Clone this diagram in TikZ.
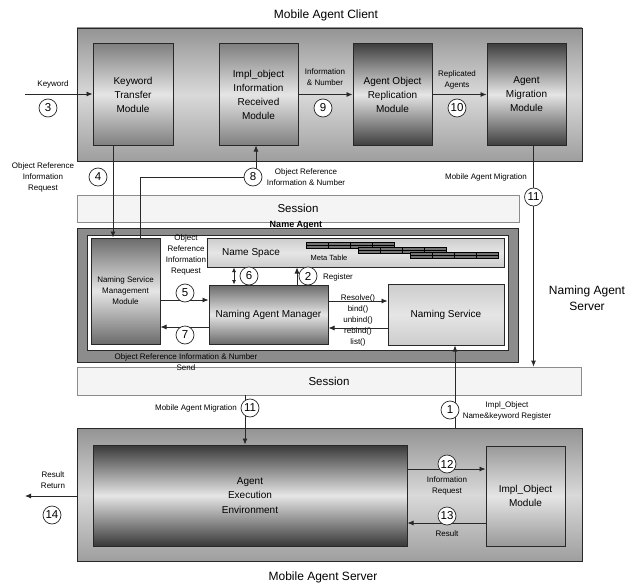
\documentclass[tikz,border=0pt]{standalone}
\usepackage{fontspec}
\setmainfont{Liberation Sans}
\usepackage{tikz}
\usetikzlibrary{arrows.meta,positioning,calc}
\definecolor{rahmen}{RGB}{40,40,40}
\definecolor{sessC}{RGB}{244,244,244}
\newcommand\modfont{\fontsize{10}{14}\selectfont}
\newcommand\lblfont{\fontsize{8}{11}\selectfont}
\newcommand\numfont{\fontsize{11.5}{12}\selectfont}
\newcommand\headfont{\fontsize{12}{16}\selectfont}
\newcommand\sessfont{\fontsize{11.5}{13}\selectfont}
\tikzset{
  panel/.style={rectangle, draw=rahmen, line width=0.9pt, top color=black!42, bottom color=black!38,
                middle color=black!15, minimum width=505pt, minimum height=133pt},
  modul/.style={rectangle, draw=rahmen, line width=1pt, top color=black!#1, bottom color=black!#1,
                middle color=black!10, align=center, font=\modfont, inner sep=1pt},
  modul/.default=45,
  sessbox/.style={rectangle, draw=black!45, line width=0.8pt, fill=sessC, font=\sessfont},
  num/.style={circle, draw=rahmen, line width=0.7pt, fill=white, minimum size=18pt, inner sep=0pt, font=\numfont},
  arr/.style={-{Latex[length=6pt,width=5pt]}, line width=0.8pt, draw=rahmen},
  arrbi/.style={{Latex[length=4.5pt,width=4pt]}-{Latex[length=4.5pt,width=4pt]}, line width=0.8pt, draw=rahmen},
  lbl/.style={font=\lblfont, align=center, inner sep=0pt},
  head/.style={font=\headfont, align=center, inner sep=0pt},
}
\begin{document}
\begin{tikzpicture}[x=1pt,y=-1pt]
  \useasboundingbox (0,0) rectangle (637,586);
  % client side
  \node[head] (tclient) at (326,15) {Mobile Agent Client};
  \node[panel] (client) at (329.5,94.5) {};
  \node[modul=50, minimum width=80pt, minimum height=101pt] (ktm) at (133,94.5) {Keyword\\Transfer\\Module};
  \node[modul=50, minimum width=79pt, minimum height=101pt] (impl) at (258.5,94.5) {Impl\_object\\Information\\Received\\Module};
  \node[modul=75, minimum width=79pt, minimum height=101pt] (aor) at (392.5,94.5) {Agent Object\\Replication\\Module};
  \node[modul=75, minimum width=79pt, minimum height=101pt] (amm) at (526.5,94.5) {Agent\\Migration\\Module};
  % naming agent server
  \node[sessbox, minimum width=442pt, minimum height=27pt] (sess1) at (298,208.5) {Session};
  \node[rectangle, draw=rahmen, line width=1pt, fill=black!45, minimum width=441pt, minimum height=134pt] (nagent) at (297.5,295) {};
  \node[rectangle, draw=rahmen, line width=0.8pt, fill=white, minimum width=421pt, minimum height=115pt] (nainner) at (297.5,292.5) {};
  \node[lbl, font=\fontsize{9}{11}\selectfont\bfseries] (tna) at (296,225) {Name Agent};
  \node[modul=58, font=\lblfont, minimum width=69pt, minimum height=106pt] (nsmm) at (125.5,291) {Naming Service\\Management\\Module};
  \node[modul=20, minimum width=297pt, minimum height=29pt] (nspace) at (355.5,252.5) {};
  \node[font=\modfont, inner sep=0pt] (nstxt) at (251,253) {Name Space};
  \foreach \i in {0,1,2}{
    \draw[fill=black!55, line width=0.6pt] ({306+52*\i},{242+5*\i}) rectangle ++(88,6);
    \draw[line width=0.4pt] ({306+52*\i},{245+5*\i}) -- ++(88,0);
    \foreach \j in {1,2,3} \draw[line width=0.5pt] ({306+52*\i+22*\j},{242+5*\i}) -- ++(0,6);
  }
  \node[lbl, font=\fontsize{7.5}{9}\selectfont] (mtab) at (329,258) {Meta Table};
  \node[modul=58, minimum width=119pt, minimum height=59pt] (nam) at (268.5,314.5) {Naming Agent Manager};
  \node[modul=20, minimum width=116pt, minimum height=61pt] (nserv) at (446,314.5) {Naming Service};
  \node[sessbox, minimum width=504pt, minimum height=28pt] (sess2) at (329,381) {Session};
  \node[head] (tnas) at (587,298) {Naming Agent\\Server};
  % server side
  \node[panel] (server) at (329.5,495) {};
  \node[modul=78, minimum width=314pt, minimum height=101pt, font=\fontsize{10}{14.5}\selectfont] (aee) at (250,495.5) {Agent\\Execution\\Environment};
  \node[modul=40, minimum width=79pt, minimum height=100pt] (iom) at (525.5,496) {Impl\_Object\\Module};
  \node[head] (tserver) at (323,577) {Mobile Agent Server};
  % labels
  \node[lbl] (lkw) at (53,84) {Keyword};
  \node[lbl] (l9) at (325,77.5) {Information\\\& Number};
  \node[lbl] (l10) at (457,80) {Replicated\\Agents};
  \node[lbl] (l4) at (43,177) {Object Reference\\Information\\Request};
  \node[lbl] (l8) at (306,177) {Object Reference\\Information \& Number};
  \node[lbl] (l11a) at (486,177) {Mobile Agent Migration};
  \node[lbl] (l5) at (186,255) {Object\\Reference\\Information\\Request};
  \node[lbl] (l2) at (338,277) {Register};
  \node[lbl] (lres) at (358,320) {Resolve()\\bind()\\unbind()\\rebind()\\list()};
  \node[lbl] (l7) at (186,362) {Object Reference Information \& Number\\Send};
  \node[lbl] (l11b) at (196,408) {Mobile Agent Migration};
  \node[lbl] (l1) at (507,411) {Impl\_Object\\Name\&keyword Register};
  \node[lbl] (l12) at (447,485.5) {Information\\Request};
  \node[lbl] (l13) at (447,534) {Result};
  \node[lbl] (l14) at (53,480.5) {Result\\Return};
  % connectors
  \coordinate (kwin) at (25,94);
  \coordinate (rrout) at (25,496);
  \draw[arr] (kwin) -- (kwin -| ktm.west);
  \draw[arr] (impl.east) -- (aor.west);
  \draw[arr] (aor.east) -- (amm.west);
  \draw[arr] ([xshift=-20pt]ktm.south) -- ([xshift=-20pt]ktm.south |- nsmm.north);
  \draw[arr] ([xshift=14.5pt]nsmm.north) |- ([xshift=-2.5pt,yshift=-32pt]impl.south) -- ([xshift=-2.5pt]impl.south);
  \draw[arr] ([xshift=7pt]amm.south) -- ([xshift=7pt]amm.south |- sess2.north);
  \draw[arr] ([yshift=14.5pt]nam.west -| nsmm.east) -- ([yshift=14.5pt]nam.west);
  \draw[arr] ([yshift=-12.5pt]nam.west) -- ([yshift=-12.5pt]nam.west -| nsmm.east);
  \draw[arrbi] ([xshift=-34.5pt]nam.north) -- ([xshift=-34.5pt]nam.north |- nspace.south);
  \draw[arr] ([xshift=28.5pt]nam.north) -- ([xshift=28.5pt]nam.north |- nspace.south);
  \draw[arr] ([yshift=13.5pt]nam.east) -- ([yshift=13.5pt]nam.east -| nserv.west);
  \draw[arr] ([yshift=-13.5pt]nam.east -| nserv.west) -- ([yshift=-13.5pt]nam.east);
  \draw[arr] ([xshift=9pt]nserv.south |- server.north) -- ([xshift=9pt]nserv.south);
  \draw[arr] ([xshift=-5pt]aee.north |- sess2.south) -- ([xshift=-5pt]aee.north);
  \draw[arr] ([yshift=26.5pt]aee.east) -- ([yshift=26.5pt]aee.east -| iom.west);
  \draw[arr] ([yshift=-27.5pt]aee.east -| iom.west) -- ([yshift=-27.5pt]aee.east);
  \draw[arr] (rrout -| server.west) -- (rrout);
  % step numbers
  \node[num] (n3) at (48,108) {3};
  \node[num] (n4) at (98,177) {4};
  \node[num] (n8) at (253,177) {8};
  \node[num] (n9) at (323,108) {9};
  \node[num] (n10) at (457,108) {10};
  \node[num] (n11a) at (533.5,197) {11};
  \node[num] (n6) at (249,276) {6};
  \node[num] (n2) at (308,276) {2};
  \node[num] (n5) at (185,293) {5};
  \node[num] (n7) at (185,335) {7};
  \node[num] (n11b) at (250,408) {11};
  \node[num] (n1) at (450,410) {1};
  \node[num] (n12) at (447,464) {12};
  \node[num] (n13) at (447,516) {13};
  \node[num] (n14) at (52,515) {14};
\end{tikzpicture}
\end{document}
